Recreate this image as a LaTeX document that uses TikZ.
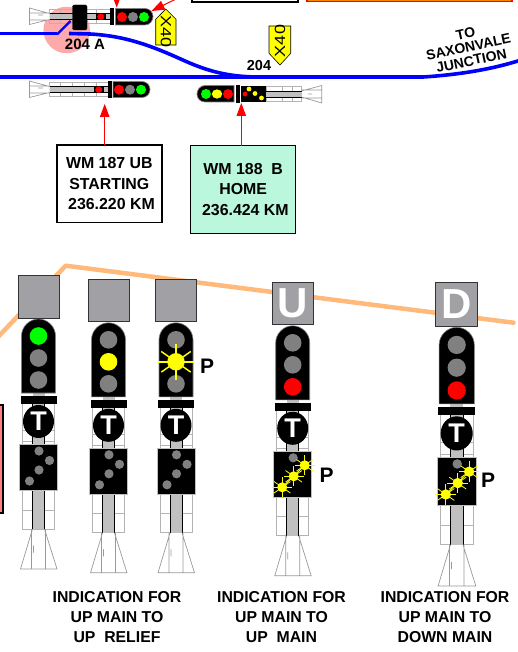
\documentclass[tikz,border=0pt]{standalone}
\usepackage{fontspec}
\setmainfont{Liberation Sans}
\newcommand{\fnt}[1]{\fontsize{#1}{#1}\selectfont\bfseries}
\definecolor{trackblue}{HTML}{0000FF}
\definecolor{wireorange}{HTML}{FFB97A}
\definecolor{lampgrey}{HTML}{808080}
\definecolor{boxgrey}{HTML}{A0A0A5}
\definecolor{latgrey}{HTML}{B4B4B4}
\definecolor{postgrey}{HTML}{C0C0C0}
\definecolor{pinkzone}{HTML}{FFAAAA}
\definecolor{mintbox}{HTML}{BBF7DD}
\definecolor{signyellow}{HTML}{FFFF00}
\tikzset{
  track/.style={draw=trackblue,line width=3.6pt},
  lat/.style={draw=latgrey,line width=0.8pt},
  basel/.style={draw=lampgrey!80,line width=0.7pt},
  infobox/.style={draw=black,line width=1.5pt,align=center,font=\fnt{15.9},inner sep=0pt,minimum width=105pt},
  redarrow/.style={draw=red,line width=1pt,-{Triangle[length=13pt,width=9.5pt]}},
  caption/.style={align=center,font=\fnt{15.8},inner sep=0pt},
  plabel/.style={font=\fnt{21},inner sep=0pt},
  signtext/.style={font=\fontsize{18}{18}\selectfont,inner sep=0pt,xscale=0.82},
}
\usetikzlibrary{arrows.meta}
% vertical signal, origin at centre top of the indicator box
\newcommand{\vbody}[4]{%
  \draw[lat] (-16,128) rectangle (16,253.5);
  \foreach \yy in {155,166,234.5,253.5}{\draw[lat] (-16,\yy) -- (16,\yy);}
  \fill[postgrey] (-6,117) rectangle (6,253.5);
  \draw[black,line width=0.7pt] (-6,215) -- (-6,253.5) (6,215) -- (6,253.5) (-6,128) -- (-6,169) (6,128) -- (6,169);
  \draw[basel] (-6,253.5) -- (-18,293.5) -- (18.5,293.5) -- (6,253.5) (-7,253.5) -- (-7,293) (7,253.5) -- (7,293) (-5,270) -- (-5,277);
  \fill[black,draw=postgrey,line width=0.5pt] (-19,169) rectangle (19,215);
  \fill[black] (-18,120.5) rectangle (18,128.5);
  \fill[black] (0,146) ellipse [x radius=15.5pt,y radius=16.5pt];
  \node[text=white,font=\fnt{27},inner sep=0pt] at (0,146) {T};
  \draw[fill=black,draw=lampgrey,line width=0.6pt] (-17,117.5) -- (-17,60.5) .. controls (-17,51) and (-9,43.5) .. (0,43.5) .. controls (9,43.5) and (17,51) .. (17,60.5) -- (17,117.5) -- cycle;
  \fill[#1] (0,60.5) circle (8.8pt);
  \fill[#2] (0,82.5) circle (8.8pt);
  \fill[#3] (0,104.5) circle (8.8pt);
  \draw[fill=boxgrey,draw=black!80,line width=1pt] (-20.5,0) rectangle (20.5,42.5);
  \node[text=white,font=\fnt{42},inner sep=0pt] at (0,21) {#4};
}
\newcommand{\fourdots}{%
  \fill[lampgrey] (0.5,175.5) circle (4.6pt) (11,185) circle (4.6pt) (0.5,194.5) circle (4.6pt) (-9,205.5) circle (4.6pt);
}
\newcommand{\burst}[4]{% x,y,radius,ray
  \foreach \aa in {0,35,90,145,180,215,270,325}{\draw[signyellow,line width=#4*0.08pt] (#1,#2) -- ++({#4*cos(\aa)},{#4*sin(\aa)});}
  \fill[signyellow] (#1,#2) circle (#3pt);
}
\newcommand{\pbursts}{%
  \fill[lampgrey] (0.5,175.5) circle (4.6pt);
  \draw[signyellow,line width=1pt] (12,183) -- (-10.5,205);
  \burst{12}{183}{5}{10}
  \burst{1}{194}{5}{10}
  \burst{-10.5}{205}{5}{10}
}
% horizontal signal with base at the left, origin on the axis
\newcommand{\hleft}[1]{%
  \draw[lat] (49.5,-7.5) rectangle (#1,7);
  \foreach \xx in {60,72,84,96}{\draw[lat] (\xx,-7.5) -- (\xx,7);}
  \fill[postgrey] (49.5,-3) rectangle (#1,3);
  \draw[black,line width=0.5pt] (49.5,-3) -- (#1,-3) (49.5,3) -- (#1,3);
  \draw[basel,fill=white] (49.5,-3) -- (29.5,-8.5) -- (29.5,8) -- (49.5,3) (30,-3.5) -- (49.5,-3.5) (30,3.5) -- (49.5,3.5) (38,-1.5) -- (43,-1.5);
}
\begin{document}
\begin{tikzpicture}[x=1pt,y=-1pt]
\useasboundingbox (0,0) rectangle (518,652);
\clip (0,0) rectangle (518,652);

% power wire
\draw[draw=wireorange,line width=4.5pt,line cap=round,line join=round] (-3,338) -- (65.7,265.7) -- (513.5,322.7);

% off-page boxes
\node[draw=black,line width=1.5pt,fill=white,minimum width=106pt,minimum height=22pt,inner sep=0pt] (topwhite) at (245,-9) {};
\node[draw=red,line width=1.5pt,fill=orange,minimum width=205pt,minimum height=22pt,inner sep=0pt] (toporange) at (409.5,-9.5) {};
\node[draw=black,line width=1.5pt,fill=red!50!white,minimum width=12pt,minimum height=108pt,inner sep=0pt] (leftbox) at (-3,459) {};

% pink zone
\fill[pinkzone] (66.7,30) circle (23.3pt);

% upper signal
\begin{scope}[shift={(0,16.5)}]
  \hleft{110}
  \draw[fill=black,rounded corners=1.5pt] (72.5,-11.5) rectangle (87,13.5);
  \fill[black] (96,-3.5) rectangle (105.5,4);
  \fill[red] (100.8,0.2) ellipse [x radius=3.6pt,y radius=3.2pt];
  \fill[black] (110,-8.5) rectangle (113.5,8.5);
  \draw[fill=black,draw=lampgrey,line width=0.7pt] (115.5,-8) -- (145,-8) .. controls (150,-8) and (153,-4) .. (153,0) .. controls (153,4) and (150,8.5) .. (145,8.5) -- (115.5,8.5) -- cycle;
  \fill[red] (122,0.5) circle (5pt);
  \fill[lampgrey] (133,0.5) circle (5pt);
  \fill[green] (144,0.5) circle (5pt);
\end{scope}

% lower left signal
\begin{scope}[shift={(0,89.5)}]
  \hleft{108}
  \fill[black] (94,-3.5) rectangle (103.5,4);
  \fill[red] (98.8,0.2) ellipse [x radius=3.6pt,y radius=3.2pt];
  \fill[black] (108,-8.5) rectangle (112,8.5);
  \draw[fill=black,draw=lampgrey,line width=0.7pt] (113,-8) -- (142,-8) .. controls (147,-8) and (150,-4) .. (150,0) .. controls (150,4) and (147,8) .. (142,8) -- (113,8) -- cycle;
  \fill[red] (119,0.2) circle (5pt);
  \fill[lampgrey] (130,0.2) circle (5pt);
  \fill[green] (141,0.2) circle (5pt);
\end{scope}

% right hand horizontal signal
\draw[lat] (266,86) rectangle (301.5,101.7);
\foreach \xx in {282.5,292.5}{\draw[lat] (\xx,86) -- (\xx,101.7);}
\fill[postgrey] (266,91) rectangle (301.5,97);
\draw[black,line width=0.5pt] (266,91) -- (301.5,91) (266,97) -- (301.5,97);
\draw[basel] (301.5,91) -- (321.7,85.5) -- (321.7,103) -- (301.5,97) (302,90) -- (321.7,90) (302,98) -- (321.7,98) (308,94) -- (312,94);
\fill[black] (241,86) rectangle (266,102);
\fill[red] (245,94) circle (2.4pt);
\fill[signyellow] (249,89) circle (2.4pt) (255,93.5) circle (2.4pt) (261.5,98) circle (2.4pt);
\fill[black] (236,85) rectangle (240,103);
\draw[fill=black,draw=lampgrey,line width=0.7pt] (234,85.5) -- (205,85.5) .. controls (200,85.5) and (197,90) .. (197,94) .. controls (197,98) and (200,102) .. (205,102) -- (234,102) -- cycle;
\fill[green] (206,94) circle (5pt);
\fill[signyellow] (217,94) ellipse [x radius=5.2pt,y radius=4.6pt];
\fill[red] (228,94) circle (5pt);

% tracks
\draw[track] (-3,77) -- (423,77) .. controls (455,75) and (490,70) .. (521,60);
\draw[track] (-3,33.7) -- (57,33.7);
\draw[draw=trackblue,line width=2.2pt] (57,34.5) -- (70.5,21);
\draw[track] (69,33.5) -- (90,34) .. controls (125,36) and (150,45) .. (185,61) .. controls (210,72) and (230,77) .. (260,77);

% X40 signs
\draw[fill=signyellow,draw=black,line width=0.6pt] (155.7,19.3) -- (165.8,9) -- (176,19.3) -- (176,45) -- (155.7,45) -- cycle;
\node[signtext,rotate=-90] (xa) at (166,31.5) {X40};
\draw[fill=signyellow,draw=black,line width=0.6pt] (269,26) -- (290.7,26) -- (290.7,53.3) -- (280,65) -- (269,53.3) -- cycle;
\node[signtext,rotate=90] (xb) at (280,41) {X40};

% track labels
\node[font=\fnt{15},inner sep=0pt] (pta) at (85,44.7) {204 A};
\node[font=\fnt{14.5},inner sep=0pt] (ptb) at (259,66) {204};
\node[rotate=12,align=center,font=\fnt{14},inner sep=0pt] (dest) at (468.5,47) {TO\\SAXONVALE\\JUNCTION};

% info boxes and their arrows
\node[infobox,fill=white,minimum height=77.5pt] (wma) at (109.3,183.8) {WM 187 UB\\[4.5pt]STARTING\\[4.5pt]\ 236.220 KM};
\node[infobox,fill=mintbox,minimum height=87.5pt] (wmb) at (243.2,189.5) {WM 188\ \ B\\[4.5pt]HOME\\[4.5pt]\ 236.424 KM};
\coordinate (tipa) at (104.7,104);
\coordinate (tipb) at (241.3,103);
\coordinate (tipc) at (116.7,7.5);
\coordinate (tipd) at (151.5,11);
\coordinate (taila) at (104.7,145);
\coordinate (tailb) at (241.3,145.7);
\coordinate (tailc) at (116.7,-5);
\coordinate (taild) at (178,-2);
\draw[redarrow] (taila) -- (tipa);
\draw[redarrow] (tailb) -- (tipb);
\draw[redarrow] (tailc) -- (tipc);
\draw[redarrow] (taild) -- (tipd);

% vertical signals
\begin{scope}[shift={(38.5,275.5)}]
  \vbody{green}{lampgrey}{lampgrey}{}
  \fourdots
\end{scope}
\begin{scope}[shift={(108.5,279.3)}]
  \vbody{lampgrey}{signyellow}{lampgrey}{}
  \fourdots
\end{scope}
\begin{scope}[shift={(176,279.3)}]
  \vbody{lampgrey}{lampgrey}{lampgrey}{}
  \fourdots
  \burst{0}{82.5}{8.5}{18}
\end{scope}
\begin{scope}[shift={(292.7,282.3)}]
  \vbody{lampgrey}{lampgrey}{red}{U}
  \pbursts
\end{scope}
\begin{scope}[shift={(456.7,282.3)},scale=1.035]
  \vbody{lampgrey}{lampgrey}{red}{D}
  \pbursts
\end{scope}

\node[plabel] (pa) at (207,366.5) {P};
\node[plabel] (pb) at (326.7,475.5) {P};
\node[plabel] (pc) at (488,480) {P};

% captions
\node[caption] (capa) at (117,617) {INDICATION FOR\\[4.3pt]UP MAIN TO\\[4.3pt]UP\ \ RELIEF};
\node[caption] (capb) at (281.5,617) {INDICATION FOR\\[4.3pt]UP MAIN TO\\[4.3pt]UP\ \ MAIN};
\node[caption] (capc) at (445,617) {INDICATION FOR\\[4.3pt]UP MAIN TO\\[4.3pt]DOWN MAIN};
\end{tikzpicture}
\end{document}
